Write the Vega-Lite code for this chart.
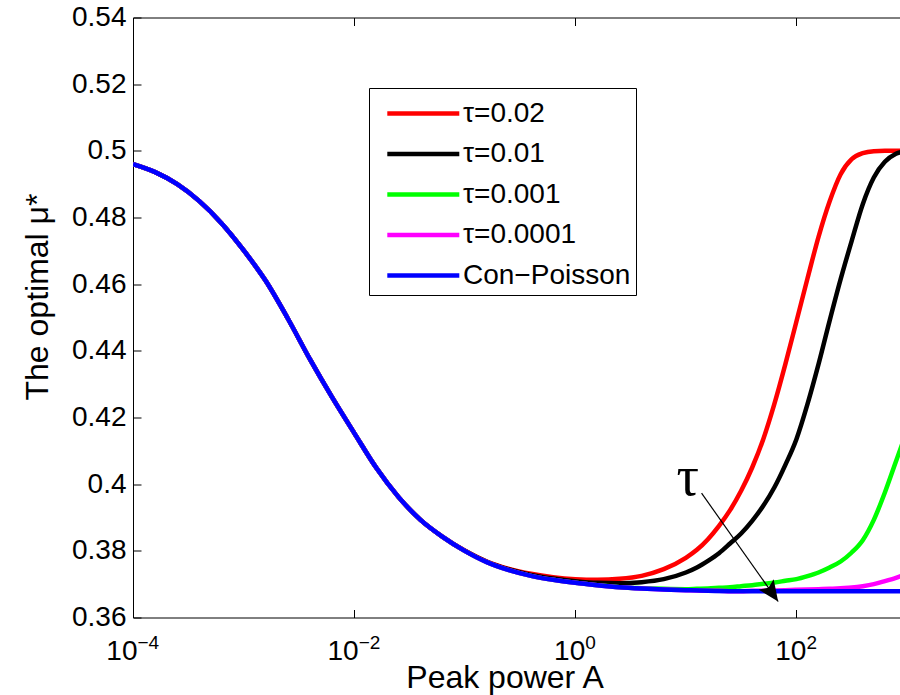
{
"$schema": "https://vega.github.io/schema/vega-lite/v6.json",
"width": 767, "height": 600,
"autosize": {"type": "none"},
"padding": {"left": 133, "top": 17.5, "right": 0, "bottom": 77.5},
"background": "white",
"config": {"view": {"stroke": null}, "font": "Liberation Sans",
  "axis": {"labelFont": "Liberation Sans", "titleFont": "Liberation Sans", "labelColor": "black", "titleColor": "black", "domain": true, "domainColor": "black", "domainWidth": 1, "tickColor": "black", "tickWidth": 1, "grid": false, "labelFlush": false, "labelOverlap": false, "titleFontWeight": "normal"}},
"resolve": {"axis": {"x": "independent"}},
"layer": [
{
"data": {"values": [
{"series":"τ=0.02","A":0.0001,"mu":0.4960},{"series":"τ=0.02","A":0.00015849,"mu":0.4936},{"series":"τ=0.02","A":0.00025119,"mu":0.4900},{"series":"τ=0.02","A":0.00039811,"mu":0.4849},{"series":"τ=0.02","A":0.00063096,"mu":0.4783},{"series":"τ=0.02","A":0.001,"mu":0.4702},{"series":"τ=0.02","A":0.0015849,"mu":0.4610},{"series":"τ=0.02","A":0.0025119,"mu":0.4497},{"series":"τ=0.02","A":0.0039811,"mu":0.4375},{"series":"τ=0.02","A":0.0063096,"mu":0.4261},{"series":"τ=0.02","A":0.01,"mu":0.4154},{"series":"τ=0.02","A":0.015849,"mu":0.4049},{"series":"τ=0.02","A":0.025119,"mu":0.3962},{"series":"τ=0.02","A":0.039811,"mu":0.3893},{"series":"τ=0.02","A":0.063096,"mu":0.3842},
{"series":"τ=0.02","A":0.1,"mu":0.3801},{"series":"τ=0.02","A":0.15849,"mu":0.3768},{"series":"τ=0.02","A":0.25119,"mu":0.3746},{"series":"τ=0.02","A":0.39811,"mu":0.3731},{"series":"τ=0.02","A":0.63096,"mu":0.3721},{"series":"τ=0.02","A":1,"mu":0.3715},{"series":"τ=0.02","A":1.5849,"mu":0.3713},{"series":"τ=0.02","A":2.5119,"mu":0.3716},{"series":"τ=0.02","A":3.9811,"mu":0.3725},{"series":"τ=0.02","A":6.3096,"mu":0.3745},{"series":"τ=0.02","A":10,"mu":0.3779},{"series":"τ=0.02","A":12.589,"mu":0.3803},{"series":"τ=0.02","A":15.849,"mu":0.3835},{"series":"τ=0.02","A":19.953,"mu":0.3875},{"series":"τ=0.02","A":25.119,"mu":0.3922},{"series":"τ=0.02","A":31.623,"mu":0.3980},{"series":"τ=0.02","A":39.811,"mu":0.4050},{"series":"τ=0.02","A":50.119,"mu":0.4135},{"series":"τ=0.02","A":63.096,"mu":0.4240},{"series":"τ=0.02","A":79.433,"mu":0.4360},{"series":"τ=0.02","A":100,"mu":0.4488},{"series":"τ=0.02","A":125.89,"mu":0.4617},{"series":"τ=0.02","A":158.49,"mu":0.4742},{"series":"τ=0.02","A":199.53,"mu":0.4848},{"series":"τ=0.02","A":251.19,"mu":0.4930},{"series":"τ=0.02","A":316.23,"mu":0.4975},{"series":"τ=0.02","A":398.11,"mu":0.4993},{"series":"τ=0.02","A":501.19,"mu":0.4999},{"series":"τ=0.02","A":630.96,"mu":0.5000},{"series":"τ=0.02","A":794.33,"mu":0.5000},{"series":"τ=0.02","A":1000,"mu":0.5000},
{"series":"τ=0.01","A":0.0001,"mu":0.4960},{"series":"τ=0.01","A":0.00015849,"mu":0.4936},{"series":"τ=0.01","A":0.00025119,"mu":0.4900},{"series":"τ=0.01","A":0.00039811,"mu":0.4849},{"series":"τ=0.01","A":0.00063096,"mu":0.4783},{"series":"τ=0.01","A":0.001,"mu":0.4702},{"series":"τ=0.01","A":0.0015849,"mu":0.4610},{"series":"τ=0.01","A":0.0025119,"mu":0.4497},{"series":"τ=0.01","A":0.0039811,"mu":0.4375},{"series":"τ=0.01","A":0.0063096,"mu":0.4261},{"series":"τ=0.01","A":0.01,"mu":0.4154},{"series":"τ=0.01","A":0.015849,"mu":0.4049},{"series":"τ=0.01","A":0.025119,"mu":0.3962},{"series":"τ=0.01","A":0.039811,"mu":0.3893},{"series":"τ=0.01","A":0.063096,"mu":0.3842},
{"series":"τ=0.01","A":0.1,"mu":0.3800},{"series":"τ=0.01","A":0.15849,"mu":0.3767},{"series":"τ=0.01","A":0.25119,"mu":0.3744},{"series":"τ=0.01","A":0.39811,"mu":0.3728},{"series":"τ=0.01","A":0.63096,"mu":0.3717},{"series":"τ=0.01","A":1,"mu":0.3709},{"series":"τ=0.01","A":1.5849,"mu":0.3704},{"series":"τ=0.01","A":2.5119,"mu":0.3703},{"series":"τ=0.01","A":3.9811,"mu":0.3706},{"series":"τ=0.01","A":6.3096,"mu":0.3715},{"series":"τ=0.01","A":10,"mu":0.3735},{"series":"τ=0.01","A":12.589,"mu":0.3750},{"series":"τ=0.01","A":15.849,"mu":0.3770},{"series":"τ=0.01","A":19.953,"mu":0.3793},{"series":"τ=0.01","A":25.119,"mu":0.3822},{"series":"τ=0.01","A":31.623,"mu":0.3852},{"series":"τ=0.01","A":39.811,"mu":0.3890},{"series":"τ=0.01","A":50.119,"mu":0.3935},{"series":"τ=0.01","A":63.096,"mu":0.3990},{"series":"τ=0.01","A":79.433,"mu":0.4058},{"series":"τ=0.01","A":100,"mu":0.4135},{"series":"τ=0.01","A":125.89,"mu":0.4240},{"series":"τ=0.01","A":158.49,"mu":0.4360},{"series":"τ=0.01","A":199.53,"mu":0.4490},{"series":"τ=0.01","A":251.19,"mu":0.4615},{"series":"τ=0.01","A":316.23,"mu":0.4730},{"series":"τ=0.01","A":398.11,"mu":0.4840},{"series":"τ=0.01","A":501.19,"mu":0.4920},{"series":"τ=0.01","A":630.96,"mu":0.4967},{"series":"τ=0.01","A":794.33,"mu":0.4991},{"series":"τ=0.01","A":1000,"mu":0.5000},
{"series":"τ=0.001","A":0.0001,"mu":0.4960},{"series":"τ=0.001","A":0.00015849,"mu":0.4936},{"series":"τ=0.001","A":0.00025119,"mu":0.4900},{"series":"τ=0.001","A":0.00039811,"mu":0.4849},{"series":"τ=0.001","A":0.00063096,"mu":0.4783},{"series":"τ=0.001","A":0.001,"mu":0.4702},{"series":"τ=0.001","A":0.0015849,"mu":0.4610},{"series":"τ=0.001","A":0.0025119,"mu":0.4497},{"series":"τ=0.001","A":0.0039811,"mu":0.4375},{"series":"τ=0.001","A":0.0063096,"mu":0.4261},{"series":"τ=0.001","A":0.01,"mu":0.4154},{"series":"τ=0.001","A":0.015849,"mu":0.4049},{"series":"τ=0.001","A":0.025119,"mu":0.3962},{"series":"τ=0.001","A":0.039811,"mu":0.3893},{"series":"τ=0.001","A":0.063096,"mu":0.3842},
{"series":"τ=0.001","A":0.1,"mu":0.3800},{"series":"τ=0.001","A":0.15849,"mu":0.3766},{"series":"τ=0.001","A":0.25119,"mu":0.3742},{"series":"τ=0.001","A":0.39811,"mu":0.3725},{"series":"τ=0.001","A":0.63096,"mu":0.3713},{"series":"τ=0.001","A":1,"mu":0.3704},{"series":"τ=0.001","A":1.5849,"mu":0.3697},{"series":"τ=0.001","A":2.5119,"mu":0.3691},{"series":"τ=0.001","A":3.9811,"mu":0.3688},{"series":"τ=0.001","A":6.3096,"mu":0.3686},{"series":"τ=0.001","A":10,"mu":0.3685},{"series":"τ=0.001","A":12.589,"mu":0.3686},{"series":"τ=0.001","A":15.849,"mu":0.3687},{"series":"τ=0.001","A":19.953,"mu":0.3689},{"series":"τ=0.001","A":25.119,"mu":0.3691},{"series":"τ=0.001","A":31.623,"mu":0.3694},{"series":"τ=0.001","A":39.811,"mu":0.3697},{"series":"τ=0.001","A":50.119,"mu":0.3701},{"series":"τ=0.001","A":63.096,"mu":0.3705},{"series":"τ=0.001","A":79.433,"mu":0.3710},{"series":"τ=0.001","A":100,"mu":0.3715},{"series":"τ=0.001","A":125.89,"mu":0.3724},{"series":"τ=0.001","A":158.49,"mu":0.3735},{"series":"τ=0.001","A":199.53,"mu":0.3750},{"series":"τ=0.001","A":251.19,"mu":0.3768},{"series":"τ=0.001","A":316.23,"mu":0.3795},{"series":"τ=0.001","A":398.11,"mu":0.3832},{"series":"τ=0.001","A":501.19,"mu":0.3893},{"series":"τ=0.001","A":630.96,"mu":0.3975},{"series":"τ=0.001","A":794.33,"mu":0.4068},{"series":"τ=0.001","A":1000,"mu":0.4160},
{"series":"τ=0.0001","A":0.0001,"mu":0.4960},{"series":"τ=0.0001","A":0.00015849,"mu":0.4936},{"series":"τ=0.0001","A":0.00025119,"mu":0.4900},{"series":"τ=0.0001","A":0.00039811,"mu":0.4849},{"series":"τ=0.0001","A":0.00063096,"mu":0.4783},{"series":"τ=0.0001","A":0.001,"mu":0.4702},{"series":"τ=0.0001","A":0.0015849,"mu":0.4610},{"series":"τ=0.0001","A":0.0025119,"mu":0.4497},{"series":"τ=0.0001","A":0.0039811,"mu":0.4375},{"series":"τ=0.0001","A":0.0063096,"mu":0.4261},{"series":"τ=0.0001","A":0.01,"mu":0.4154},{"series":"τ=0.0001","A":0.015849,"mu":0.4049},{"series":"τ=0.0001","A":0.025119,"mu":0.3962},{"series":"τ=0.0001","A":0.039811,"mu":0.3893},{"series":"τ=0.0001","A":0.063096,"mu":0.3842},
{"series":"τ=0.0001","A":0.1,"mu":0.3800},{"series":"τ=0.0001","A":0.15849,"mu":0.3766},{"series":"τ=0.0001","A":0.25119,"mu":0.3742},{"series":"τ=0.0001","A":0.39811,"mu":0.3725},{"series":"τ=0.0001","A":0.63096,"mu":0.3713},{"series":"τ=0.0001","A":1,"mu":0.3704},{"series":"τ=0.0001","A":1.5849,"mu":0.3697},{"series":"τ=0.0001","A":2.5119,"mu":0.3691},{"series":"τ=0.0001","A":3.9811,"mu":0.3687},{"series":"τ=0.0001","A":6.3096,"mu":0.3684},{"series":"τ=0.0001","A":10,"mu":0.3682},{"series":"τ=0.0001","A":12.589,"mu":0.3681},{"series":"τ=0.0001","A":15.849,"mu":0.3680},{"series":"τ=0.0001","A":19.953,"mu":0.3680},{"series":"τ=0.0001","A":25.119,"mu":0.3679},{"series":"τ=0.0001","A":31.623,"mu":0.3679},{"series":"τ=0.0001","A":39.811,"mu":0.3680},{"series":"τ=0.0001","A":50.119,"mu":0.3680},{"series":"τ=0.0001","A":63.096,"mu":0.3681},{"series":"τ=0.0001","A":79.433,"mu":0.3682},{"series":"τ=0.0001","A":100,"mu":0.3683},{"series":"τ=0.0001","A":125.89,"mu":0.3684},{"series":"τ=0.0001","A":158.49,"mu":0.3685},{"series":"τ=0.0001","A":199.53,"mu":0.3686},{"series":"τ=0.0001","A":251.19,"mu":0.3688},{"series":"τ=0.0001","A":316.23,"mu":0.3690},{"series":"τ=0.0001","A":398.11,"mu":0.3694},{"series":"τ=0.0001","A":501.19,"mu":0.3700},{"series":"τ=0.0001","A":630.96,"mu":0.3709},{"series":"τ=0.0001","A":794.33,"mu":0.3719},{"series":"τ=0.0001","A":1000,"mu":0.3731},
{"series":"Con−Poisson","A":0.0001,"mu":0.4960},{"series":"Con−Poisson","A":0.00015849,"mu":0.4936},{"series":"Con−Poisson","A":0.00025119,"mu":0.4900},{"series":"Con−Poisson","A":0.00039811,"mu":0.4849},{"series":"Con−Poisson","A":0.00063096,"mu":0.4783},{"series":"Con−Poisson","A":0.001,"mu":0.4702},{"series":"Con−Poisson","A":0.0015849,"mu":0.4610},{"series":"Con−Poisson","A":0.0025119,"mu":0.4497},{"series":"Con−Poisson","A":0.0039811,"mu":0.4375},{"series":"Con−Poisson","A":0.0063096,"mu":0.4261},{"series":"Con−Poisson","A":0.01,"mu":0.4154},{"series":"Con−Poisson","A":0.015849,"mu":0.4049},{"series":"Con−Poisson","A":0.025119,"mu":0.3962},{"series":"Con−Poisson","A":0.039811,"mu":0.3893},{"series":"Con−Poisson","A":0.063096,"mu":0.3842},
{"series":"Con−Poisson","A":0.1,"mu":0.3800},{"series":"Con−Poisson","A":0.15849,"mu":0.3766},{"series":"Con−Poisson","A":0.25119,"mu":0.3742},{"series":"Con−Poisson","A":0.39811,"mu":0.3725},{"series":"Con−Poisson","A":0.63096,"mu":0.3713},{"series":"Con−Poisson","A":1,"mu":0.3704},{"series":"Con−Poisson","A":1.5849,"mu":0.3697},{"series":"Con−Poisson","A":2.5119,"mu":0.3691},{"series":"Con−Poisson","A":3.9811,"mu":0.3687},{"series":"Con−Poisson","A":6.3096,"mu":0.3684},{"series":"Con−Poisson","A":10,"mu":0.3682},{"series":"Con−Poisson","A":15.849,"mu":0.3680},{"series":"Con−Poisson","A":25.119,"mu":0.3679},{"series":"Con−Poisson","A":39.811,"mu":0.3679},{"series":"Con−Poisson","A":63.096,"mu":0.3679},{"series":"Con−Poisson","A":100,"mu":0.3679},{"series":"Con−Poisson","A":158.49,"mu":0.3679},{"series":"Con−Poisson","A":251.19,"mu":0.3679},{"series":"Con−Poisson","A":398.11,"mu":0.3679},{"series":"Con−Poisson","A":630.96,"mu":0.3679},{"series":"Con−Poisson","A":1000,"mu":0.3679}
]},
"mark": {"type": "line", "clip": true, "strokeWidth": 4.5, "interpolate": "monotone"},
"encoding": {
  "x": {"field": "A", "type": "quantitative",
    "scale": {"type": "log", "domain": [0.0001, 864.5], "nice": false},
    "axis": {"orient": "bottom", "values": [0.0001, 0.01, 1, 100],
      "labelExpr": "'10'", "labelAlign": "right",
      "labelOffset": {"condition": {"test": "datum.value < 0.5", "value": 4}, "value": 9.5},
      "tickSize": -8, "labelFontSize": 28, "labelBaseline": "alphabetic", "labelPadding": 49.5,
      "title": "Peak power A", "titleFontSize": 32, "titleBaseline": "alphabetic", "titleX": 371.5, "titleY": 69.5}},
  "y": {"field": "mu", "type": "quantitative",
    "scale": {"domain": [0.36, 0.54], "nice": false, "zero": false},
    "axis": {"values": [0.36, 0.38, 0.4, 0.42, 0.44, 0.46, 0.48, 0.5, 0.52, 0.54], "format": ".2~f",
      "tickSize": -8, "labelFontSize": 28, "labelPadding": 15,
      "title": "The optimal μ*", "titleFontSize": 32, "titleBaseline": "alphabetic", "titleAngle": 270, "titleX": -86, "titleY": 279}},
  "color": {"field": "series", "type": "nominal",
    "scale": {"domain": ["τ=0.02", "τ=0.01", "τ=0.001", "τ=0.0001", "Con−Poisson"], "range": ["#ff0000", "#000000", "#00ff00", "#ff00ff", "#0000ff"]},
    "legend": {"orient": "none", "legendX": 236, "legendY": 70.5, "title": null,
      "symbolType": "M-0.4,0H3.6", "symbolSize": 1296, "symbolStrokeWidth": 4.5,
      "labelFontSize": 28, "labelFont": "Liberation Sans", "labelColor": "black", "labelOffset": 48, "labelLimit": 400,
      "strokeColor": "black", "fillColor": "white", "padding": 5, "rowPadding": 5.5}}
}
},
{
"data": {"values": [{"x1": 13.87, "y1": 0.3973, "x2": 68.4, "y2": 0.3648}]},
"mark": {"type": "rule", "color": "black", "strokeWidth": 1.2},
"encoding": {
  "x": {"field": "x1", "type": "quantitative", "scale": {"type": "log", "domain": [0.0001, 864.5], "nice": false},
    "axis": {"orient": "top", "values": [0.0001, 0.01, 1, 100], "labels": false, "title": null, "tickSize": -8}},
  "y": {"field": "y1", "type": "quantitative"},
  "x2": {"field": "x2"},
  "y2": {"field": "y2"}
}
},
{
"data": {"values": [{"A": 10.4, "mu": 0.4019, "label": "τ"}]},
"mark": {"type": "text", "font": "Liberation Serif", "fontSize": 56, "align": "center", "baseline": "middle", "color": "black"},
"encoding": {
  "x": {"field": "A", "type": "quantitative",
    "axis": {"orient": "bottom", "values": [0.0001, 0.01, 1, 100], "domain": false, "ticks": false, "tickSize": 0, "title": null,
      "labelExpr": "datum.value < 0.001 ? '−4' : datum.value < 0.1 ? '−2' : datum.value < 10 ? '0' : '2'",
      "labelAlign": "left", "labelBaseline": "alphabetic", "labelFontSize": 19, "labelPadding": 31,
      "labelOffset": {"condition": {"test": "datum.value < 0.5", "value": 4}, "value": 9.5}}},
  "y": {"field": "mu", "type": "quantitative"},
  "text": {"field": "label"}
}
},
{
"data": {"values": [{"A": 58.5, "mu": 0.368}]},
"mark": {"type": "point", "shape": "M0,-1L0.7,0.6L0,0.3L-0.7,0.6Z", "filled": true, "color": "black", "opacity": 1, "size": 676, "angle": 145, "strokeWidth": 0},
"encoding": {
  "x": {"field": "A", "type": "quantitative", "axis": null},
  "y": {"field": "mu", "type": "quantitative"}
}
}
]
}
